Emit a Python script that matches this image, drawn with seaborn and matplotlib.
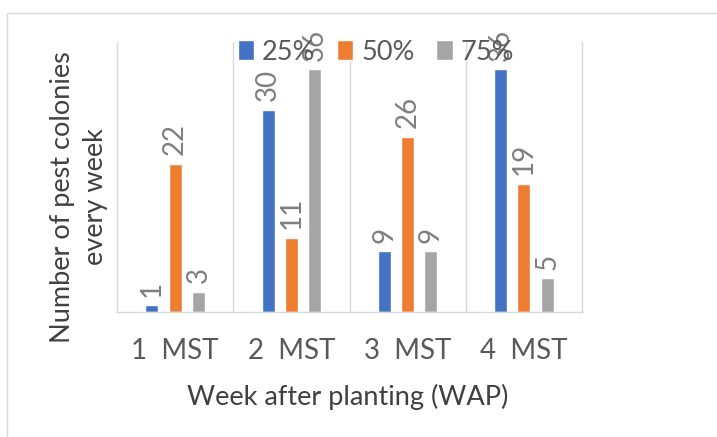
import numpy as np
import pandas as pd
import seaborn as sns
import matplotlib.pyplot as plt
from matplotlib.patches import Rectangle

# Pest colony counts per week for each treatment level
weeks = ["1  MST", "2  MST", "3  MST", "4  MST"]
levels = ["25%", "50%", "75%"]
colonies_25 = [1, 30, 9, 36]
colonies_50 = [22, 11, 26, 19]
colonies_75 = [3, 36, 9, 5]
palette = ["#4472C4", "#ED7D31", "#A5A5A5"]

df = pd.DataFrame({
    "week": weeks * 3,
    "level": np.repeat(levels, len(weeks)),
    "count": colonies_25 + colonies_50 + colonies_75,
})

sns.set_theme(style="white")
plt.rcParams["font.family"] = ["Lato", "DejaVu Sans"]

W, H = 717, 437
fig = plt.figure(figsize=(W / 100, H / 100), dpi=100)
ax = fig.add_axes([117 / W, 1 - 312 / H, 465 / W, 270 / H])

sns.barplot(data=df, x="week", y="count", hue="level", hue_order=levels,
            palette=palette, saturation=1, width=0.6, gap=0.45,
            errorbar=None, ax=ax)

handles, labels = ax.get_legend_handles_labels()
ax.get_legend().remove()

# Value labels above bars
for cont in ax.containers:
    ax.bar_label(cont, fmt="%g", rotation=90, padding=6, fontsize=20,
                 color="#7F7F7F", clip_on=False)

ax.set_ylim(0, 40)
ax.set_xlim(-0.5, 3.5)
ax.set_yticks([])
ax.set_xlabel("")
ax.set_ylabel("")
ax.tick_params(axis="x", length=0, pad=19, labelsize=20, labelcolor="#595959")

# Category separators
ax.set_xticks([0.5, 1.5, 2.5], minor=True)
ax.tick_params(axis="x", which="minor", length=0)
ax.grid(False)
ax.grid(which="minor", axis="x", color="#D9D9D9", lw=1)
for side in ["left", "right", "bottom"]:
    ax.spines[side].set_color("#D9D9D9")
    ax.spines[side].set_linewidth(1)
ax.spines["top"].set_visible(False)

fig.legend(handles, labels, loc="center", bbox_to_anchor=(376 / W, 1 - 52 / H),
           ncol=3, frameon=False, fontsize=19.5, handlelength=0.6,
           handleheight=0.75, handletextpad=0.3, columnspacing=0.8,
           labelcolor="#595959")

fig.text(79 / W, 1 - 197 / H, "Number of pest colonies\nevery week",
         rotation=90, ha="center", va="center", fontsize=19.5,
         color="#404040", linespacing=1.4)
fig.text(348 / W, 1 - 397 / H, "Week after planting (WAP)",
         ha="center", va="center", fontsize=19.5, color="#404040")

# Chart area border
fig.patches.append(Rectangle((7 / W, -0.1), 1.2, 1 - 13 / H + 0.1,
                             transform=fig.transFigure, fill=False,
                             edgecolor="#D9D9D9", lw=1))

fig.savefig("out.png", dpi=100)
